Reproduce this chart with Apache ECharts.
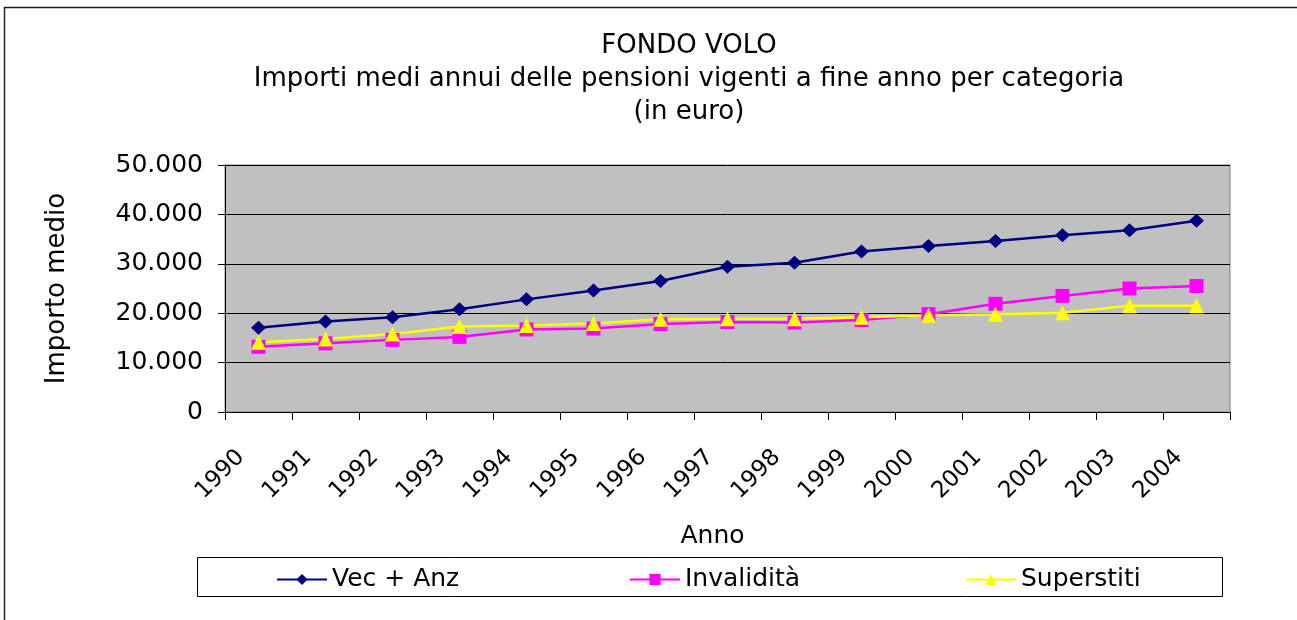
<!DOCTYPE html>
<html><head><meta charset="utf-8">
<script src="https://cdn.jsdelivr.net/npm/echarts@6/dist/echarts.min.js"></script>
<style>html,body{margin:0;padding:0;background:#fff}#c{width:1297px;height:620px}</style>
</head><body><div id="c"></div>
<script>
const titleLines = ['FONDO VOLO', 'Importi medi annui delle pensioni vigenti a fine anno per categoria', '(in euro)'];
const years = ['1990','1991','1992','1993','1994','1995','1996','1997','1998','1999','2000','2001','2002','2003','2004'];
const vecAnz = [17050, 18300, 19200, 20800, 22800, 24600, 26500, 29400, 30200, 32500, 33600, 34600, 35800, 36800, 38700];
const invalidita = [13200, 13900, 14600, 15200, 16700, 16900, 17800, 18200, 18100, 18600, 19800, 21900, 23500, 25000, 25500];
const superstiti = [14100, 14800, 15800, 17300, 17500, 17900, 18800, 18900, 18900, 19200, 19600, 19800, 20100, 21500, 21500];
const seriesNames = ['Vec + Anz', 'Invalidità', 'Superstiti'];
const yAxisName = 'Importo medio';
const xAxisName = 'Anno';

const FONT = 'DejaVu Sans';
function fmtIt(v) {
  if (v === 0) return '0';
  return String(v).replace(/\B(?=(\d{3})+(?!\d))/g, '.');
}
const chart = echarts.init(document.getElementById('c'), null, {renderer: 'canvas'});
const legendBase = {
  orient: 'horizontal', top: 567, padding: 0, itemWidth: 50, itemHeight: 14, itemGap: 0,
  textStyle: {fontFamily: FONT, fontSize: 25, color: '#000'}
};
chart.setOption({
  backgroundColor: '#fff',
  animation: false,
  title: {
    text: titleLines.join('\n'),
    left: 684, top: 25, textAlign: 'center',
    textStyle: {fontFamily: FONT, fontSize: 26, fontWeight: 'normal', color: '#000', lineHeight: 33}
  },
  graphic: [
    {type: 'rect', shape: {x: 4.5, y: 7.5, width: 1400, height: 700}, style: {fill: 'none', stroke: '#222', lineWidth: 1.5}, z: -10, silent: true},
    {type: 'rect', shape: {x: 197.5, y: 557.5, width: 1025, height: 39}, style: {fill: 'none', stroke: '#000', lineWidth: 1}, silent: true}
  ],
  legend: [
    Object.assign({}, legendBase, {left: 276, data: [seriesNames[0]]}),
    Object.assign({}, legendBase, {left: 629, data: [seriesNames[1]]}),
    Object.assign({}, legendBase, {left: 965, data: [seriesNames[2]]})
  ],
  grid: {
    left: 225, right: 67, top: 165, bottom: 208,
    show: true, backgroundColor: '#C0C0C0', borderColor: '#808080', borderWidth: 1
  },
  xAxis: {
    type: 'category', data: years, boundaryGap: true,
    name: xAxisName, nameLocation: 'middle', nameGap: 112,
    nameTextStyle: {fontFamily: FONT, fontSize: 25, color: '#000', padding: [0, 30, 0, 0]},
    axisLine: {lineStyle: {color: '#000', width: 1}},
    axisTick: {show: true, length: 8, lineStyle: {color: '#000'}},
    axisLabel: {rotate: 45, margin: 24, fontFamily: FONT, fontSize: 23, color: '#000', padding: [0, 25, 0, 0], interval: 0},
    splitLine: {show: false}
  },
  yAxis: {
    type: 'value', min: 0, max: 50000, interval: 10000,
    name: yAxisName, nameLocation: 'middle', nameGap: 155, nameRotate: 90,
    nameTextStyle: {fontFamily: FONT, fontSize: 26, color: '#000'},
    axisLine: {show: true, lineStyle: {color: '#000', width: 1}},
    axisTick: {show: true, length: 7, lineStyle: {color: '#000'}},
    axisLabel: {margin: 22, fontFamily: FONT, fontSize: 25, color: '#000', formatter: fmtIt},
    splitLine: {show: true, lineStyle: {color: '#000', width: 1}}
  },
  series: [
    {name: seriesNames[0], type: 'line', data: vecAnz, symbol: 'diamond', symbolSize: [15, 14],
     lineStyle: {color: '#000080', width: 2.5}, itemStyle: {color: '#000080'}},
    {name: seriesNames[1], type: 'line', data: invalidita, symbol: 'rect', symbolSize: 14,
     lineStyle: {color: '#FF00FF', width: 2.5}, itemStyle: {color: '#FF00FF'}},
    {name: seriesNames[2], type: 'line', data: superstiti, symbol: 'triangle', symbolSize: 15,
     lineStyle: {color: '#FFFF00', width: 2.5}, itemStyle: {color: '#FFFF00'}}
  ]
});
</script></body></html>
